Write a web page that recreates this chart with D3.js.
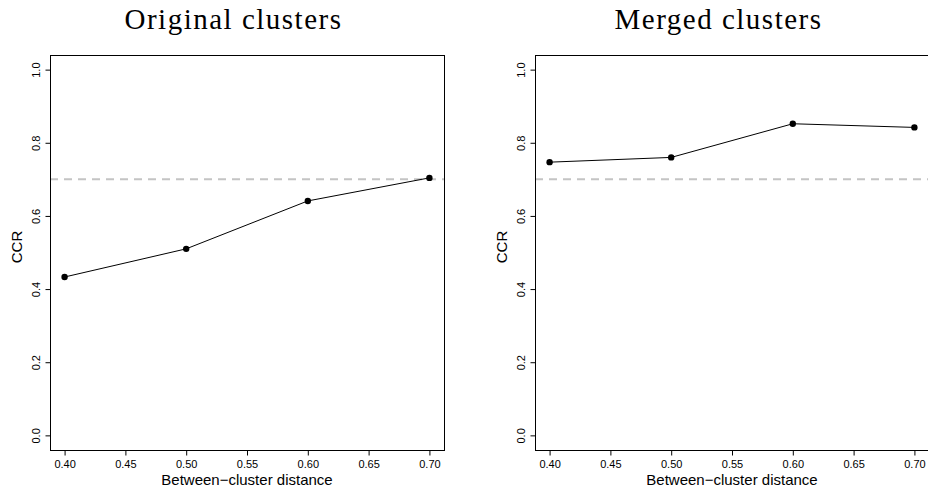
<!DOCTYPE html>
<html>
<head>
<meta charset="utf-8">
<script src="https://cdn.jsdelivr.net/npm/d3@7"></script>
<style>
  body { margin: 0; background: #fff; }
  svg { display: block; }
</style>
</head>
<body>
<div id="chart"></div>
<script>
// values
const distances = [0.40, 0.50, 0.60, 0.70];
const ccrOriginal = [0.433, 0.510, 0.641, 0.704];
const ccrMerged = [0.747, 0.760, 0.852, 0.842];
const xTicks = [0.40, 0.45, 0.50, 0.55, 0.60, 0.65, 0.70];
const yTicks = [0.0, 0.2, 0.4, 0.6, 0.8, 1.0];
const threshold = 0.7;
const titles = ["Original clusters", "Merged clusters"];

let width = 928, height = 491;
let box = {w: 394, top: 55, bottom: 450};
let panels = [
  {left: 50, title: titles[0], values: ccrOriginal},
  {left: 535, title: titles[1], values: ccrMerged}
];

let svg = d3.select("#chart")
  .append("svg")
  .attr("width", width)
  .attr("height", height);

panels.forEach(p => {
  let data = distances.map((d, i) => ({x: d, y: p.values[i]}));

  // R style 4% padding on both axes
  let x = d3.scaleLinear()
    .domain([0.388, 0.712])
    .range([p.left, p.left + box.w]);
  let y = d3.scaleLinear()
    .domain([-0.04, 1.04])
    .range([box.bottom, box.top]);

  let g = svg.append("g");

  // dashed reference line
  g.append("line")
    .attr("x1", p.left)
    .attr("x2", p.left + box.w)
    .attr("y1", y(threshold))
    .attr("y2", y(threshold))
    .attr("stroke", "#c4c4c4")
    .attr("stroke-width", 2)
    .attr("stroke-dasharray", "8,6");

  g.append("path")
    .datum(data)
    .attr("fill", "none")
    .attr("stroke", "#000")
    .attr("stroke-width", 1)
    .attr("d", d3.line().x(d => x(d.x)).y(d => y(d.y)));

  g.append("g")
    .selectAll("circle")
    .data(data)
    .join("circle")
    .attr("cx", d => x(d.x))
    .attr("cy", d => y(d.y))
    .attr("r", 3.2)
    .attr("fill", "#000");

  // box
  g.append("rect")
    .attr("x", p.left + 0.5)
    .attr("y", box.top + 0.5)
    .attr("width", box.w)
    .attr("height", box.bottom - box.top)
    .attr("fill", "none")
    .attr("stroke", "#000")
    .attr("stroke-width", 1);

  // x axis
  g.append("g")
    .attr("transform", `translate(0,${box.bottom + 0.5})`)
    .call(d3.axisBottom(x).tickValues(xTicks).tickFormat(d3.format(".2f")).tickSize(5).tickPadding(5))
    .call(a => a.select(".domain").remove())
    .call(a => a.selectAll(".tick text")
      .attr("font-family", "'Liberation Sans', Arial, sans-serif")
      .attr("font-size", 11)
      .attr("fill", "#000"));

  // y axis, rotated labels like R
  g.append("g")
    .attr("transform", `translate(${p.left + 0.5},0)`)
    .call(d3.axisLeft(y).tickValues(yTicks).tickFormat(d3.format(".1f")).tickSize(5))
    .call(a => a.select(".domain").remove())
    .call(a => a.selectAll(".tick text")
      .attr("transform", "rotate(-90)")
      .attr("text-anchor", "middle")
      .attr("x", 0)
      .attr("y", -11)
      .attr("dy", 0)
      .attr("font-family", "'Liberation Sans', Arial, sans-serif")
      .attr("font-size", 11)
      .attr("fill", "#000"));

  // axis titles
  g.append("text")
    .attr("x", p.left + 197)
    .attr("y", 485)
    .attr("text-anchor", "middle")
    .attr("font-family", "'Liberation Sans', Arial, sans-serif")
    .attr("font-size", 15)
    .text("Between\u2212cluster distance");

  g.append("text")
    .attr("transform", `translate(${p.left - 28},247) rotate(-90)`)
    .attr("text-anchor", "middle")
    .attr("font-family", "'Liberation Sans', Arial, sans-serif")
    .attr("font-size", 15)
    .text("CCR");

  // panel title
  g.append("text")
    .attr("x", p.left + 183.5)
    .attr("y", 29)
    .attr("text-anchor", "middle")
    .attr("font-family", "'Liberation Serif', 'Times New Roman', serif")
    .attr("font-size", 29)
    .attr("letter-spacing", 1.5)
    .text(p.title);
});
</script>
</body>
</html>
